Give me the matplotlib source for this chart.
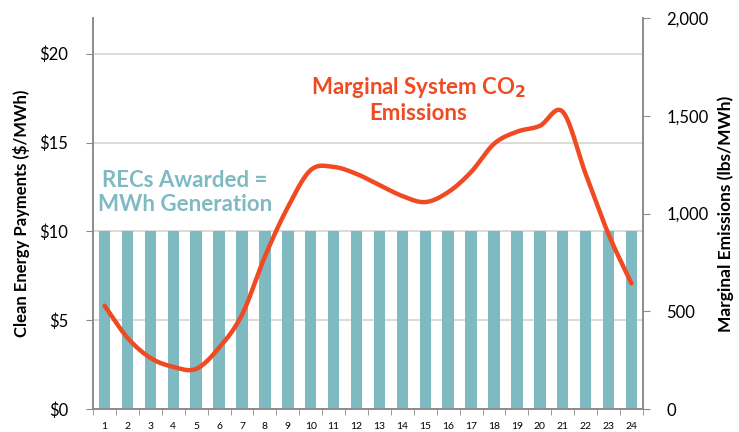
import numpy as np
import matplotlib; matplotlib.use('Agg')
import matplotlib.pyplot as plt

plt.rcParams['font.family'] = ['Lato', 'DejaVu Sans']

hours = list(range(1, 25))
recs = [10] * 24   # $/MWh clean energy payment, flat
co2 = [529, 365, 262, 216, 206, 314, 483, 781, 1033, 1223, 1239, 1203,
       1146, 1090, 1059, 1110, 1213, 1357, 1419, 1449, 1521, 1203, 894, 643]

TEAL = '#7fbac3'; RED = '#f04a23'; GREY = '#8c8c8c'

def smooth(x, y, n=20):
    # catmull-rom so the curve looks like Excel's smoothed line
    x = np.asarray(x, float); y = np.asarray(y, float)
    px = np.r_[2*x[0]-x[1], x, 2*x[-1]-x[-2]]
    py = np.r_[2*y[0]-y[1], y, 2*y[-1]-y[-2]]
    t = np.linspace(0, 1, n, endpoint=False)[:, None]
    out = []
    for p in (px, py):
        p0, p1, p2, p3 = p[:-3], p[1:-2], p[2:-1], p[3:]
        c = 0.5*((2*p1) + (-p0+p2)*t + (2*p0-5*p1+4*p2-p3)*t**2 + (-p0+3*p1-3*p2+p3)*t**3)
        out.append(np.r_[c.T.ravel(), p[-2]])
    return out

fig = plt.figure(figsize=(7.39, 4.32), dpi=100)
ax = fig.add_axes([0.126, 0.053, 0.744, 0.905])
ax2 = ax.twinx()

ax.bar(hours, recs, width=0.5, color=TEAL, zorder=2)
ax.set_xlim(0.5, 24.5); ax.set_ylim(0, 22)
ax.set_yticks([0, 5, 10, 15, 20])
ax.set_yticklabels(['$0', '$5', '$10', '$15', '$20'], fontsize=12)
ax.yaxis.grid(True, color='#d6d6cf', lw=1.2, zorder=0)
ax.set_axisbelow(True)
ax.set_xticks(hours)
ax.set_xticklabels([str(h) for h in hours], fontsize=7.5)
ax.set_xticks(np.arange(0.5, 25, 1), minor=True)
ax.tick_params(axis='x', which='major', length=0, pad=9)
ax.tick_params(axis='x', which='minor', length=4, color=GREY)
ax.tick_params(axis='y', length=5, color=GREY, pad=13)
ax.set_ylabel('Clean Energy Payments ($/MWh)', fontsize=12, fontweight='bold', labelpad=7)

sx, sy = smooth(hours, co2)
ax2.plot(sx, sy, color=RED, lw=3.2, solid_capstyle='round')
ax2.set_ylim(0, 2000)
ax2.set_yticks([0, 500, 1000, 1500, 2000])
ax2.set_yticklabels(['0', '500', '1,000', '1,500', '2,000'], fontsize=12)
ax2.tick_params(axis='y', length=5, color=GREY, pad=12)
ax2.set_ylabel('Marginal Emissions (lbs/MWh)', fontsize=12.5, fontweight='bold', labelpad=6)

for a in (ax, ax2):
    a.spines['top'].set_visible(False)
    for s in ('left', 'right', 'bottom'):
        a.spines[s].set_color(GREY); a.spines[s].set_linewidth(1.2)

ax.text(4.5, 12.2, 'RECs Awarded =\nMWh Generation', color=TEAL, fontsize=16,
        fontweight='bold', ha='center', va='center', linespacing=1.2)
ax2.text(14.7, 1585, 'Marginal System CO$_\\mathbf{2}$\nEmissions', color=RED, fontsize=16,
         fontweight='bold', ha='center', va='center', linespacing=1.2)

plt.savefig('out.png', dpi=100)
